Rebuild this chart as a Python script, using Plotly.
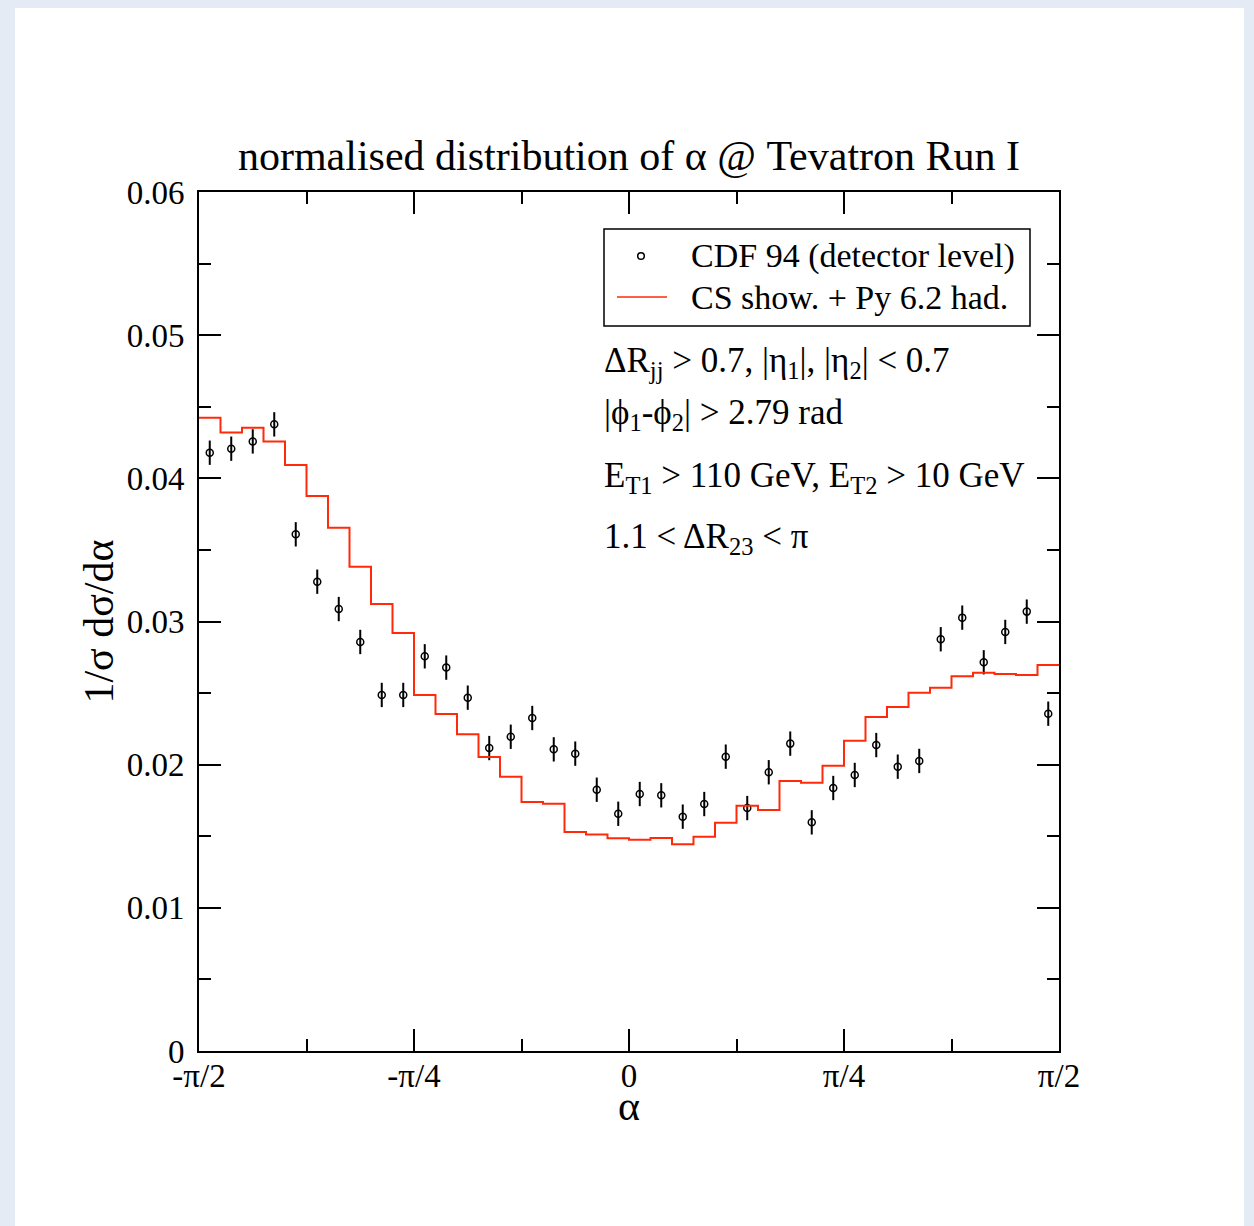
import numpy as np
import plotly.graph_objects as go

# ---- data ----
n_bins = 40
alpha_edges = np.linspace(-np.pi / 2, np.pi / 2, n_bins + 1)
alpha_centers = 0.5 * (alpha_edges[:-1] + alpha_edges[1:])

cdf_values = [
    0.04179, 0.04207, 0.04258, 0.04377, 0.03609, 0.03278, 0.03087, 0.02857,
    0.02487, 0.02487, 0.02757, 0.02678, 0.02468, 0.02116, 0.02195, 0.02326,
    0.02107, 0.02077, 0.01825, 0.01657, 0.01795, 0.01786, 0.01637, 0.01725,
    0.02056, 0.01697, 0.01947, 0.02147, 0.01597, 0.01837, 0.01928, 0.02137,
    0.01986, 0.02026, 0.02876, 0.03027, 0.02715, 0.02927, 0.03069, 0.02356,
]
cdf_errors = [0.00085] * n_bins

cs_values = [
    0.04423, 0.04321, 0.04354, 0.04258, 0.04093, 0.03877, 0.03655, 0.03383,
    0.03122, 0.02920, 0.02487, 0.02354, 0.02212, 0.02054, 0.01916, 0.01739,
    0.01727, 0.01530, 0.01513, 0.01486, 0.01476, 0.01488, 0.01444, 0.01497,
    0.01595, 0.01713, 0.01683, 0.01886, 0.01874, 0.01993, 0.02167, 0.02333,
    0.02403, 0.02503, 0.02538, 0.02617, 0.02642, 0.02633, 0.02626, 0.02696,
]

series_names = ["CDF 94 (detector level)", "CS show. + Py 6.2 had."]

x_tickvals = [-np.pi / 2, -np.pi / 4, 0, np.pi / 4, np.pi / 2]
x_ticktext = ["-\u03c0/2", "-\u03c0/4", "0", "\u03c0/4", "\u03c0/2"]
x_minorvals = [-3 * np.pi / 8, -np.pi / 8, np.pi / 8, 3 * np.pi / 8]
y_tickvals = [0, 0.01, 0.02, 0.03, 0.04, 0.05, 0.06]
y_ticktext = ["0", "0.01", "0.02", "0.03", "0.04", "0.05", "0.06"]
y_minorvals = [0.005, 0.015, 0.025, 0.035, 0.045, 0.055]

FONT = "Liberation Serif"
RED = "#ff2a0a"
W, H = 1254, 1226
ML, MR, MT, MB = 199, 195, 192, 175
PW, PH = W - ML - MR, H - MT - MB


def px2paper_x(px):
    return (px - ML) / PW


def px2paper_y(py):
    return (H - MB - py) / PH


fig = go.Figure()

fig.add_trace(go.Scatter(
    x=alpha_centers, y=cdf_values, mode="markers",
    name=series_names[0], showlegend=False,
    marker=dict(symbol="circle-open", size=7, color="black", line=dict(width=1.5, color="black")),
    error_y=dict(type="data", array=cdf_errors, visible=True, color="black", thickness=2, width=0),
))

fig.add_trace(go.Scatter(
    x=alpha_edges, y=cs_values + [cs_values[-1]], mode="lines",
    line=dict(shape="hv", color=RED, width=2),
    name=series_names[1], showlegend=False,
))

axis_common = dict(
    showline=True, linecolor="black", linewidth=2, mirror="allticks",
    ticks="inside", ticklen=22, tickwidth=1.5, tickcolor="black",
    showgrid=False, zeroline=False,
    tickfont=dict(family=FONT, size=33, color="black"),
)

fig.update_xaxes(
    range=[-np.pi / 2, np.pi / 2], tickmode="array", tickvals=x_tickvals, ticktext=x_ticktext,
    minor=dict(tickmode="array", tickvals=x_minorvals, ticks="inside", ticklen=12, tickwidth=1.5, tickcolor="black"),
    ticklabelstandoff=-6,
    **axis_common,
)
fig.update_yaxes(
    range=[0, 0.06], tickmode="array", tickvals=y_tickvals, ticktext=y_ticktext,
    minor=dict(tickmode="array", tickvals=y_minorvals, ticks="inside", ticklen=12, tickwidth=1.5, tickcolor="black"),
    title=dict(text="1/\u03c3 d\u03c3/d\u03b1", font=dict(family=FONT, size=42, color="black"), standoff=0),
    ticklabelstandoff=6,
    **axis_common,
)

annots = [
    ("\u0394R<sub>jj</sub> > 0.7, |\u03b7<sub>1</sub>|, |\u03b7<sub>2</sub>| < 0.7", 362),
    ("|\u03d5<sub>1</sub>-\u03d5<sub>2</sub>| > 2.79 rad", 414),
    ("E<sub>T1</sub> > 110 GeV, E<sub>T2</sub> > 10 GeV", 477),
    ("1.1 < \u0394R<sub>23</sub> < \u03c0", 538),
]
annotations = []
for txt, ypx in annots:
    annotations.append(dict(
        text=txt, xref="paper", yref="paper", x=px2paper_x(602), y=px2paper_y(ypx),
        xanchor="left", yanchor="middle", showarrow=False,
        font=dict(family=FONT, size=35, color="black"),
    ))

# x-axis title
annotations.append(dict(
    text="\u03b1", xref="paper", yref="paper", x=0.5, y=px2paper_y(1106),
    xanchor="center", yanchor="middle", showarrow=False,
    font=dict(family=FONT, size=42, color="black"),
))

# legend (drawn as a framed key)
legend_rows = [256, 297]
for name, ypx in zip(series_names, legend_rows):
    annotations.append(dict(
        text=name, xref="paper", yref="paper", x=px2paper_x(689), y=px2paper_y(ypx),
        xanchor="left", yanchor="middle", showarrow=False,
        font=dict(family=FONT, size=34, color="black"),
    ))

shapes = [
    dict(type="rect", xref="paper", yref="paper", layer="below",
         x0=px2paper_x(15), x1=px2paper_x(1244), y0=px2paper_y(1226), y1=px2paper_y(8),
         fillcolor="white", line=dict(width=0)),
    dict(type="rect", xref="paper", yref="paper", layer="above",
         x0=px2paper_x(604), x1=px2paper_x(1030), y0=px2paper_y(326), y1=px2paper_y(229),
         fillcolor="rgba(0,0,0,0)", line=dict(width=1.5, color="black")),
    dict(type="circle", xref="paper", yref="paper", layer="above",
         x0=px2paper_x(641 - 3.3), x1=px2paper_x(641 + 3.3),
         y0=px2paper_y(legend_rows[0] + 3.3), y1=px2paper_y(legend_rows[0] - 3.3),
         line=dict(width=1.5, color="black")),
    dict(type="line", xref="paper", yref="paper", layer="above",
         x0=px2paper_x(617), x1=px2paper_x(667), y0=px2paper_y(legend_rows[1]), y1=px2paper_y(legend_rows[1]),
         line=dict(width=1.5, color=RED)),
]

fig.update_layout(
    width=W, height=H,
    margin=dict(l=ML, r=MR, t=MT, b=MB, autoexpand=False),
    paper_bgcolor="#e4ebf5", plot_bgcolor="white",
    title=dict(text="normalised distribution of \u03b1 @ Tevatron Run I",
               font=dict(family=FONT, size=42, color="black"),
               x=0.5, xref="paper", xanchor="center", y=1 - 155 / H, yanchor="middle"),
    showlegend=False,
    annotations=annotations,
    shapes=shapes,
)

fig.write_html("out.html")
